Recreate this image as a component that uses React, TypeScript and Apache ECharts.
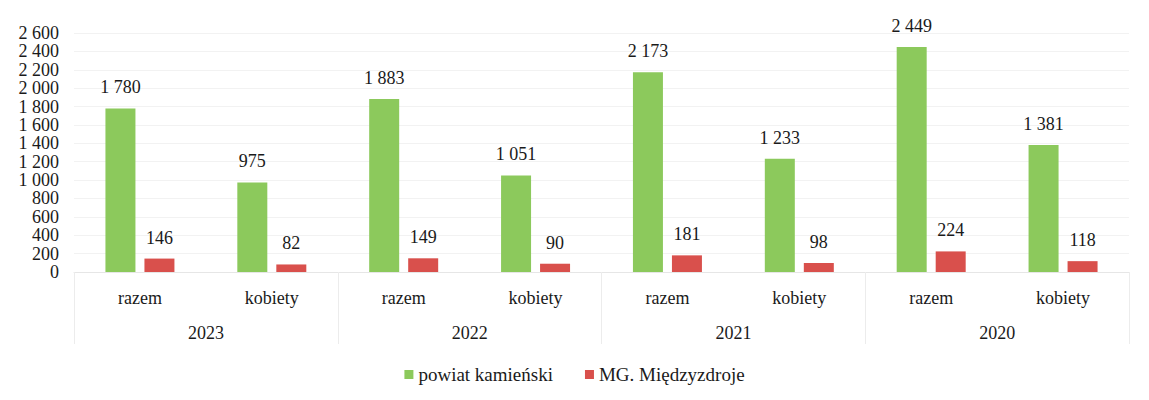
import React, { useEffect, useRef } from "react";
import * as echarts from "echarts";

const categories = ["razem", "kobiety", "razem", "kobiety", "razem", "kobiety", "razem", "kobiety"];
const years = ["2023", "2022", "2021", "2020"];
const powiat = [1780, 975, 1883, 1051, 2173, 1233, 2449, 1381];
const gmina = [146, 82, 149, 90, 181, 98, 224, 118];
const seriesNames = ["powiat kamieński", "MG. Międzyzdroje"];

const fmt = (v: number) => String(v).replace(/\B(?=(\d{3})+(?!\d))/g, " ");
const FONT = "'Liberation Serif', 'Times New Roman', 'DejaVu Serif', serif";

export default function App() {
  const ref = useRef<HTMLDivElement>(null);
  useEffect(() => {
    const chart = echarts.init(ref.current!, null, { renderer: "svg" });
    chart.setOption({
      animation: false,
      backgroundColor: "#ffffff",
      textStyle: { fontFamily: FONT, color: "#1a1a1a" },
      grid: { left: 74, right: 20, top: 33, bottom: 128 },
      legend: {
        bottom: 11,
        left: "center",
        itemWidth: 9,
        itemHeight: 9,
        itemGap: 32,
        itemTextGap: 4,
        icon: "rect",
        textStyle: { fontFamily: FONT, fontSize: 19, color: "#1a1a1a" },
        data: seriesNames,
      },
      xAxis: [
        {
          type: "category",
          data: categories,
          axisLine: { show: true, lineStyle: { color: "#e6e6e6" } },
          axisTick: { show: false },
          axisLabel: { fontFamily: FONT, fontSize: 18, color: "#1a1a1a", margin: 17 },
        },
        {
          type: "category",
          data: years,
          position: "bottom",
          offset: 72,
          axisLine: { show: false },
          axisTick: { show: true, inside: true, length: 72, lineStyle: { color: "#ececec" } },
          axisLabel: { fontFamily: FONT, fontSize: 18, color: "#1a1a1a", margin: -20 },
        },
      ],
      yAxis: {
        type: "value",
        min: 0,
        max: 2600,
        interval: 200,
        axisLine: { show: false },
        axisTick: { show: false },
        splitLine: { lineStyle: { color: "#f2f2f2" } },
        axisLabel: {
          fontFamily: FONT,
          fontSize: 18,
          color: "#1a1a1a",
          margin: 15,
          lineHeight: 14,
          formatter: (v: number) => fmt(v),
        },
      },
      series: [
        {
          name: seriesNames[0],
          type: "bar",
          xAxisIndex: 0,
          data: powiat,
          barWidth: 30,
          barGap: "30%",
          itemStyle: { color: "#8cc95c" },
          label: {
            show: true,
            position: "top",
            distance: 12,
            fontFamily: FONT,
            fontSize: 18,
            color: "#1a1a1a",
            formatter: (p: any) => fmt(p.value),
          },
        },
        {
          name: seriesNames[1],
          type: "bar",
          xAxisIndex: 0,
          data: gmina,
          barWidth: 30,
          itemStyle: { color: "#d9504c" },
          label: {
            show: true,
            position: "top",
            distance: 12,
            fontFamily: FONT,
            fontSize: 18,
            color: "#1a1a1a",
            formatter: (p: any) => fmt(p.value),
          },
        },
      ],
    });
    return () => chart.dispose();
  }, []);
  return <div ref={ref} style={{ width: 1149, height: 400, margin: -8 }} />;
}
